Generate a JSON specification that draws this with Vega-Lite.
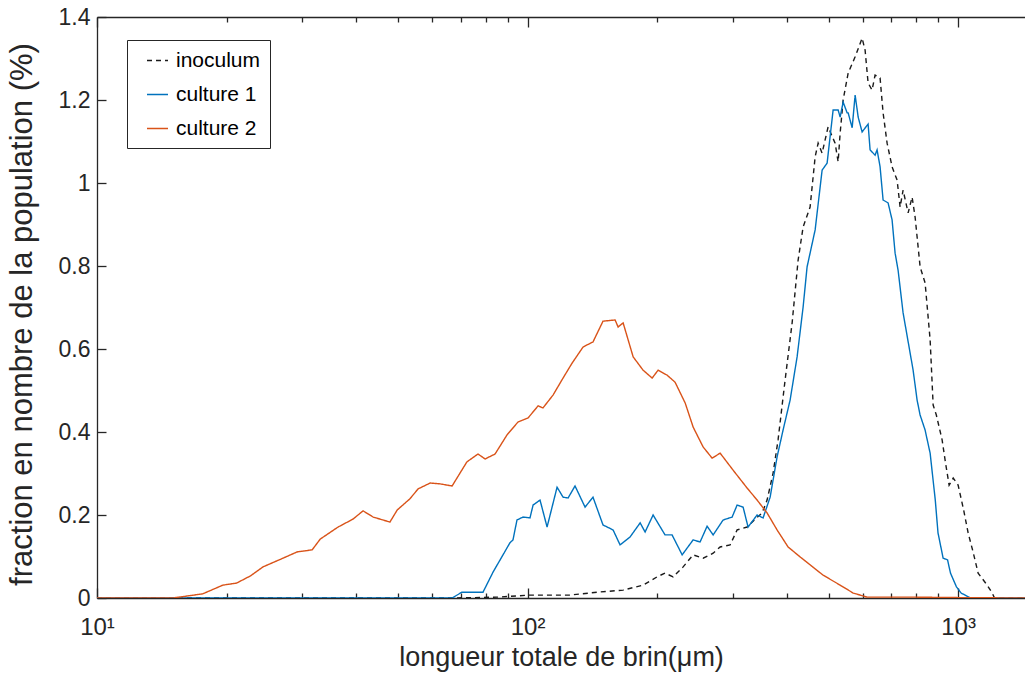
{
"$schema": "https://vega.github.io/schema/vega-lite/v6.json",
"width": 928, "height": 581,
"autosize": {"type": "none"},
"padding": {"left": 97, "top": 17, "right": 0, "bottom": 75},
"background": "white",
"config": {
  "view": {"stroke": null},
  "font": "Liberation Sans",
  "axis": {"grid": false, "domainColor": "#262626", "tickColor": "#262626", "labelColor": "#262626", "titleColor": "#262626", "labelFont": "Liberation Sans", "titleFont": "Liberation Sans", "titleFontWeight": "normal", "domainWidth": 1.3, "tickWidth": 1.3}
},
"data": {"values": [
{"series":"inoculum","longueur":10,"fraction":0},
{"series":"inoculum","longueur":66.8,"fraction":0},
{"series":"inoculum","longueur":85,"fraction":0.002},
{"series":"inoculum","longueur":101.3,"fraction":0.007},
{"series":"inoculum","longueur":125.5,"fraction":0.007},
{"series":"inoculum","longueur":145,"fraction":0.014},
{"series":"inoculum","longueur":166.7,"fraction":0.019},
{"series":"inoculum","longueur":185.5,"fraction":0.031},
{"series":"inoculum","longueur":199.9,"fraction":0.051},
{"series":"inoculum","longueur":208.6,"fraction":0.06},
{"series":"inoculum","longueur":217.8,"fraction":0.051},
{"series":"inoculum","longueur":229.8,"fraction":0.075},
{"series":"inoculum","longueur":242.4,"fraction":0.104},
{"series":"inoculum","longueur":255.7,"fraction":0.096},
{"series":"inoculum","longueur":269.8,"fraction":0.108},
{"series":"inoculum","longueur":280.1,"fraction":0.123},
{"series":"inoculum","longueur":295.4,"fraction":0.128},
{"series":"inoculum","longueur":306.7,"fraction":0.164},
{"series":"inoculum","longueur":323.5,"fraction":0.171},
{"series":"inoculum","longueur":337.7,"fraction":0.19},
{"series":"inoculum","longueur":350.6,"fraction":0.205},
{"series":"inoculum","longueur":360,"fraction":0.236},
{"series":"inoculum","longueur":371.8,"fraction":0.301},
{"series":"inoculum","longueur":381.8,"fraction":0.381},
{"series":"inoculum","longueur":396.4,"fraction":0.525},
{"series":"inoculum","longueur":411.6,"fraction":0.663},
{"series":"inoculum","longueur":425,"fraction":0.814},
{"series":"inoculum","longueur":436.5,"fraction":0.894},
{"series":"inoculum","longueur":453.1,"fraction":0.942},
{"series":"inoculum","longueur":465.5,"fraction":1.063},
{"series":"inoculum","longueur":473,"fraction":1.096},
{"series":"inoculum","longueur":483.2,"fraction":1.072},
{"series":"inoculum","longueur":491,"fraction":1.104},
{"series":"inoculum","longueur":498.9,"fraction":1.135},
{"series":"inoculum","longueur":518,"fraction":1.096},
{"series":"inoculum","longueur":526.4,"fraction":1.051},
{"series":"inoculum","longueur":532.1,"fraction":1.12},
{"series":"inoculum","longueur":540.7,"fraction":1.2},
{"series":"inoculum","longueur":555.4,"fraction":1.265},
{"series":"inoculum","longueur":576.5,"fraction":1.304},
{"series":"inoculum","longueur":598.4,"fraction":1.349},
{"series":"inoculum","longueur":608.1,"fraction":1.32},
{"series":"inoculum","longueur":617.9,"fraction":1.241},
{"series":"inoculum","longueur":631.2,"fraction":1.224},
{"series":"inoculum","longueur":641.4,"fraction":1.26},
{"series":"inoculum","longueur":658.8,"fraction":1.253},
{"series":"inoculum","longueur":669.5,"fraction":1.169},
{"series":"inoculum","longueur":684,"fraction":1.096},
{"series":"inoculum","longueur":702.5,"fraction":1.039},
{"series":"inoculum","longueur":721.6,"fraction":1.007},
{"series":"inoculum","longueur":733.3,"fraction":0.942},
{"series":"inoculum","longueur":745.1,"fraction":0.983},
{"series":"inoculum","longueur":765.4,"fraction":0.928},
{"series":"inoculum","longueur":781.9,"fraction":0.966},
{"series":"inoculum","longueur":794.5,"fraction":0.918},
{"series":"inoculum","longueur":816.1,"fraction":0.798},
{"series":"inoculum","longueur":838.2,"fraction":0.759},
{"series":"inoculum","longueur":861,"fraction":0.622},
{"series":"inoculum","longueur":875,"fraction":0.465},
{"series":"inoculum","longueur":890,"fraction":0.441},
{"series":"inoculum","longueur":918,"fraction":0.381},
{"series":"inoculum","longueur":935,"fraction":0.325},
{"series":"inoculum","longueur":953,"fraction":0.272},
{"series":"inoculum","longueur":974,"fraction":0.289},
{"series":"inoculum","longueur":1000,"fraction":0.272},
{"series":"inoculum","longueur":1030,"fraction":0.212},
{"series":"inoculum","longueur":1055,"fraction":0.157},
{"series":"inoculum","longueur":1085,"fraction":0.108},
{"series":"inoculum","longueur":1113,"fraction":0.06},
{"series":"inoculum","longueur":1168,"fraction":0.031},
{"series":"inoculum","longueur":1200,"fraction":0.012},
{"series":"inoculum","longueur":1215,"fraction":0},
{"series":"inoculum","longueur":1430,"fraction":0},
{"series":"culture 1","longueur":10,"fraction":0},
{"series":"culture 1","longueur":66.8,"fraction":0},
{"series":"culture 1","longueur":70.4,"fraction":0.014},
{"series":"culture 1","longueur":78.8,"fraction":0.014},
{"series":"culture 1","longueur":83.2,"fraction":0.063},
{"series":"culture 1","longueur":87.7,"fraction":0.104},
{"series":"culture 1","longueur":91,"fraction":0.133},
{"series":"culture 1","longueur":92.5,"fraction":0.14},
{"series":"culture 1","longueur":94.5,"fraction":0.188},
{"series":"culture 1","longueur":97.6,"fraction":0.195},
{"series":"culture 1","longueur":101.3,"fraction":0.193},
{"series":"culture 1","longueur":103,"fraction":0.224},
{"series":"culture 1","longueur":106.9,"fraction":0.236},
{"series":"culture 1","longueur":111,"fraction":0.171},
{"series":"culture 1","longueur":117.1,"fraction":0.267},
{"series":"culture 1","longueur":120.9,"fraction":0.243},
{"series":"culture 1","longueur":124.2,"fraction":0.241},
{"series":"culture 1","longueur":128.9,"fraction":0.27},
{"series":"culture 1","longueur":136,"fraction":0.219},
{"series":"culture 1","longueur":141.9,"fraction":0.243},
{"series":"culture 1","longueur":149.7,"fraction":0.176},
{"series":"culture 1","longueur":158,"fraction":0.164},
{"series":"culture 1","longueur":164,"fraction":0.128},
{"series":"culture 1","longueur":173,"fraction":0.147},
{"series":"culture 1","longueur":182.6,"fraction":0.181},
{"series":"culture 1","longueur":187.5,"fraction":0.159},
{"series":"culture 1","longueur":195.7,"fraction":0.2},
{"series":"culture 1","longueur":208.6,"fraction":0.152},
{"series":"culture 1","longueur":216.6,"fraction":0.152},
{"series":"culture 1","longueur":228.6,"fraction":0.104},
{"series":"culture 1","longueur":242.4,"fraction":0.14},
{"series":"culture 1","longueur":251.6,"fraction":0.135},
{"series":"culture 1","longueur":261.2,"fraction":0.173},
{"series":"culture 1","longueur":269.8,"fraction":0.152},
{"series":"culture 1","longueur":284.6,"fraction":0.188},
{"series":"culture 1","longueur":298.6,"fraction":0.195},
{"series":"culture 1","longueur":306.7,"fraction":0.224},
{"series":"culture 1","longueur":316.7,"fraction":0.219},
{"series":"culture 1","longueur":325.2,"fraction":0.171},
{"series":"culture 1","longueur":341.3,"fraction":0.2},
{"series":"culture 1","longueur":352.4,"fraction":0.193},
{"series":"culture 1","longueur":365.9,"fraction":0.243},
{"series":"culture 1","longueur":379.8,"fraction":0.34},
{"series":"culture 1","longueur":392.2,"fraction":0.405},
{"series":"culture 1","longueur":407.2,"fraction":0.477},
{"series":"culture 1","longueur":422.7,"fraction":0.581},
{"series":"culture 1","longueur":436.5,"fraction":0.701},
{"series":"culture 1","longueur":445.9,"fraction":0.798},
{"series":"culture 1","longueur":465.5,"fraction":0.887},
{"series":"culture 1","longueur":483.2,"fraction":1.031},
{"series":"culture 1","longueur":496.3,"fraction":1.048},
{"series":"culture 1","longueur":512.5,"fraction":1.176},
{"series":"culture 1","longueur":526.4,"fraction":1.176},
{"series":"culture 1","longueur":532.1,"fraction":1.159},
{"series":"culture 1","longueur":540.7,"fraction":1.195},
{"series":"culture 1","longueur":552.4,"fraction":1.169},
{"series":"culture 1","longueur":555.4,"fraction":1.169},
{"series":"culture 1","longueur":567.4,"fraction":1.133},
{"series":"culture 1","longueur":576.5,"fraction":1.212},
{"series":"culture 1","longueur":585.9,"fraction":1.159},
{"series":"culture 1","longueur":598.4,"fraction":1.123},
{"series":"culture 1","longueur":617.9,"fraction":1.142},
{"series":"culture 1","longueur":624.5,"fraction":1.08},
{"series":"culture 1","longueur":641.4,"fraction":1.067},
{"series":"culture 1","longueur":648.3,"fraction":1.08},
{"series":"culture 1","longueur":658.8,"fraction":1.039},
{"series":"culture 1","longueur":669.5,"fraction":0.959},
{"series":"culture 1","longueur":687.7,"fraction":0.952},
{"series":"culture 1","longueur":702.5,"fraction":0.911},
{"series":"culture 1","longueur":713.9,"fraction":0.831},
{"series":"culture 1","longueur":725.4,"fraction":0.79},
{"series":"culture 1","longueur":745.1,"fraction":0.687},
{"series":"culture 1","longueur":786.1,"fraction":0.549},
{"series":"culture 1","longueur":803,"fraction":0.477},
{"series":"culture 1","longueur":816,"fraction":0.441},
{"series":"culture 1","longueur":838,"fraction":0.405},
{"series":"culture 1","longueur":861,"fraction":0.349},
{"series":"culture 1","longueur":885,"fraction":0.236},
{"series":"culture 1","longueur":898,"fraction":0.157},
{"series":"culture 1","longueur":923,"fraction":0.096},
{"series":"culture 1","longueur":945,"fraction":0.092},
{"series":"culture 1","longueur":960,"fraction":0.06},
{"series":"culture 1","longueur":991,"fraction":0.027},
{"series":"culture 1","longueur":1016,"fraction":0.012},
{"series":"culture 1","longueur":1055,"fraction":0.003},
{"series":"culture 1","longueur":1070,"fraction":0},
{"series":"culture 1","longueur":1430,"fraction":0},
{"series":"culture 2","longueur":10,"fraction":0},
{"series":"culture 2","longueur":15,"fraction":0},
{"series":"culture 2","longueur":17.6,"fraction":0.01},
{"series":"culture 2","longueur":19.6,"fraction":0.031},
{"series":"culture 2","longueur":21.1,"fraction":0.036},
{"series":"culture 2","longueur":22.7,"fraction":0.053},
{"series":"culture 2","longueur":24.3,"fraction":0.075},
{"series":"culture 2","longueur":27.05,"fraction":0.096},
{"series":"culture 2","longueur":29.15,"fraction":0.111},
{"series":"culture 2","longueur":31.6,"fraction":0.116},
{"series":"culture 2","longueur":33,"fraction":0.142},
{"series":"culture 2","longueur":36.3,"fraction":0.171},
{"series":"culture 2","longueur":39.3,"fraction":0.19},
{"series":"culture 2","longueur":41.5,"fraction":0.21},
{"series":"culture 2","longueur":43.8,"fraction":0.195},
{"series":"culture 2","longueur":47.9,"fraction":0.183},
{"series":"culture 2","longueur":49.8,"fraction":0.212},
{"series":"culture 2","longueur":53.3,"fraction":0.239},
{"series":"culture 2","longueur":55.7,"fraction":0.263},
{"series":"culture 2","longueur":59.4,"fraction":0.277},
{"series":"culture 2","longueur":62.6,"fraction":0.275},
{"series":"culture 2","longueur":66.8,"fraction":0.27},
{"series":"culture 2","longueur":72.3,"fraction":0.328},
{"series":"culture 2","longueur":76.7,"fraction":0.347},
{"series":"culture 2","longueur":79.7,"fraction":0.335},
{"series":"culture 2","longueur":84.05,"fraction":0.347},
{"series":"culture 2","longueur":89.6,"fraction":0.393},
{"series":"culture 2","longueur":95,"fraction":0.424},
{"series":"culture 2","longueur":100.3,"fraction":0.434},
{"series":"culture 2","longueur":105.8,"fraction":0.463},
{"series":"culture 2","longueur":108.6,"fraction":0.458},
{"series":"culture 2","longueur":114.6,"fraction":0.489},
{"series":"culture 2","longueur":120.9,"fraction":0.53},
{"series":"culture 2","longueur":126.9,"fraction":0.566},
{"series":"culture 2","longueur":134.6,"fraction":0.605},
{"series":"culture 2","longueur":141.9,"fraction":0.617},
{"series":"culture 2","longueur":149.7,"fraction":0.667},
{"series":"culture 2","longueur":159.7,"fraction":0.67},
{"series":"culture 2","longueur":162.3,"fraction":0.653},
{"series":"culture 2","longueur":166.7,"fraction":0.663},
{"series":"culture 2","longueur":175.9,"fraction":0.581},
{"series":"culture 2","longueur":185.5,"fraction":0.549},
{"series":"culture 2","longueur":194.7,"fraction":0.53},
{"series":"culture 2","longueur":201,"fraction":0.549},
{"series":"culture 2","longueur":210.9,"fraction":0.537},
{"series":"culture 2","longueur":220.1,"fraction":0.52},
{"series":"culture 2","longueur":232.3,"fraction":0.47},
{"series":"culture 2","longueur":242.4,"fraction":0.412},
{"series":"culture 2","longueur":255.7,"fraction":0.364},
{"series":"culture 2","longueur":268.3,"fraction":0.337},
{"series":"culture 2","longueur":280.1,"fraction":0.349},
{"series":"culture 2","longueur":300.2,"fraction":0.308},
{"series":"culture 2","longueur":323.5,"fraction":0.265},
{"series":"culture 2","longueur":341.3,"fraction":0.236},
{"series":"culture 2","longueur":360,"fraction":0.205},
{"series":"culture 2","longueur":379.8,"fraction":0.164},
{"series":"culture 2","longueur":402.8,"fraction":0.123},
{"series":"culture 2","longueur":429.5,"fraction":0.099},
{"series":"culture 2","longueur":453.1,"fraction":0.08},
{"series":"culture 2","longueur":485.8,"fraction":0.055},
{"series":"culture 2","longueur":532.1,"fraction":0.031},
{"series":"culture 2","longueur":570.4,"fraction":0.012},
{"series":"culture 2","longueur":614.6,"fraction":0.002},
{"series":"culture 2","longueur":800,"fraction":0.002},
{"series":"culture 2","longueur":1000,"fraction":0.001},
{"series":"culture 2","longueur":1430,"fraction":0}
]},
"layer": [
  {
    "mark": {"type": "line", "strokeWidth": 1.4, "clip": true},
    "encoding": {
      "x": {"field": "longueur", "type": "quantitative",
        "scale": {"type": "log", "domain": [10, 1430], "nice": false},
        "axis": {"orient": "bottom", "values": [10,20,30,40,50,60,70,80,90,100,200,300,400,500,600,700,800,900,1000],
          "labelExpr": "datum.value == 10 ? '10¹' : datum.value == 100 ? '10²' : datum.value == 1000 ? '10³' : ''",
          "tickSize": {"condition": {"test": "datum.value == 10 || datum.value == 100 || datum.value == 1000", "value": -10}, "value": -5},
          "labelFontSize": 24, "labelPadding": 27, "labelFlush": false, "labelOverlap": false,
          "title": "longueur totale de brin(μm)", "titleFontSize": 27, "titlePadding": 0}},
      "y": {"field": "fraction", "type": "quantitative",
        "scale": {"domain": [0, 1.4], "nice": false, "zero": true},
        "axis": {"values": [0,0.2,0.4,0.6,0.8,1,1.2,1.4], "format": "~g", "tickSize": -9,
          "labelFontSize": 23, "labelPadding": 16, "labelFlush": false,
          "title": "fraction en nombre de la population (%)", "titleFontSize": 31, "titlePadding": 20, "titleY": 297}},
      "color": {"field": "series", "type": "nominal",
        "scale": {"domain": ["inoculum", "culture 1", "culture 2"], "range": ["#1a1a1a", "#0072BD", "#D95319"]},
        "legend": {"orient": "none", "legendX": 30, "legendY": 23, "title": null, "symbolType": "stroke", "symbolSize": 441,
          "symbolStrokeWidth": 1.4, "symbolOffset": 10, "labelFontSize": 21, "labelFont": "Liberation Sans", "labelColor": "#000000",
          "labelExpr": "datum.label + '\u00a0\u00a0'",
          "padding": 9, "rowPadding": 12, "labelOffset": 7, "strokeColor": "#262626", "fillColor": "white"}},
      "strokeDash": {"field": "series", "type": "nominal",
        "scale": {"domain": ["inoculum", "culture 1", "culture 2"], "range": [[5, 4], [1, 0], [1, 0]]},
        "legend": {"orient": "none", "legendX": 30, "legendY": 23, "title": null, "symbolType": "stroke", "symbolSize": 441,
          "symbolStrokeWidth": 1.4, "symbolOffset": 10, "labelFontSize": 21, "labelFont": "Liberation Sans", "labelColor": "#000000",
          "labelExpr": "datum.label + '\u00a0\u00a0'",
          "padding": 9, "rowPadding": 12, "labelOffset": 7, "strokeColor": "#262626", "fillColor": "white"}}
    }
  },
  {
    "mark": {"type": "line", "opacity": 0},
    "encoding": {
      "x": {"field": "longueur", "type": "quantitative",
        "scale": {"type": "log", "domain": [10, 1430], "nice": false},
        "axis": {"orient": "top", "values": [10,20,30,40,50,60,70,80,90,100,200,300,400,500,600,700,800,900,1000],
          "labels": false, "title": null,
          "tickSize": {"condition": {"test": "datum.value == 10 || datum.value == 100 || datum.value == 1000", "value": -10}, "value": -5}}},
      "y": {"field": "fraction", "type": "quantitative", "scale": {"domain": [0, 1.4], "nice": false}}
    }
  }
],
"resolve": {"axis": {"x": "independent"}}
}
